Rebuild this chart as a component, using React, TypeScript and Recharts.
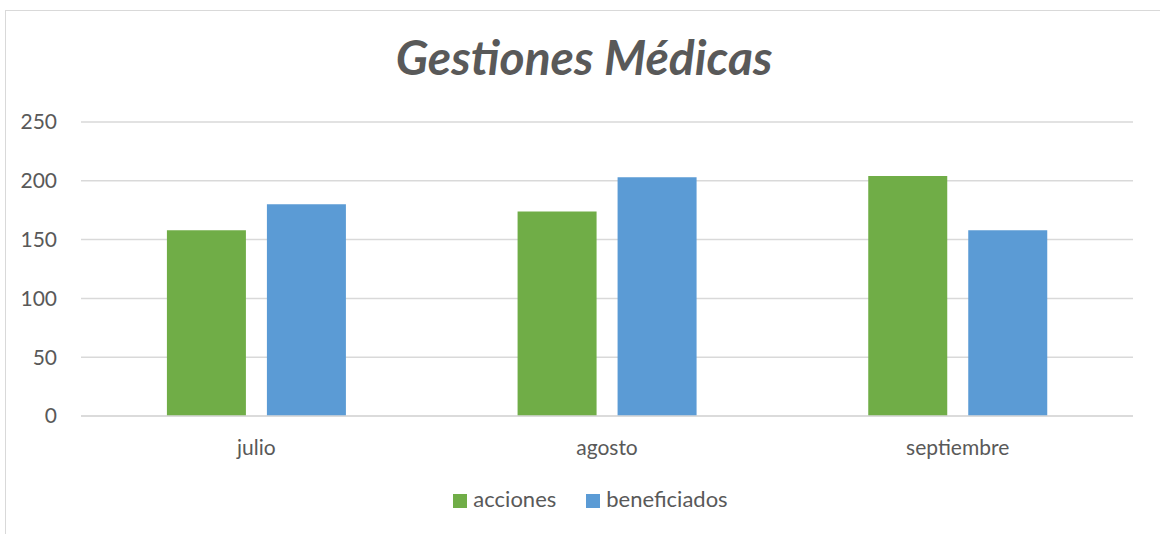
import { BarChart, Bar, XAxis, YAxis, CartesianGrid, Legend } from "recharts";

const months = ["julio", "agosto", "septiembre"];
const acciones = [158, 174, 204];
const beneficiados = [180, 203, 158];
const yTicks = [0, 50, 100, 150, 200, 250];

const data = months.map((m, i) => ({
  mes: m,
  acciones: acciones[i],
  beneficiados: beneficiados[i],
}));

const FONT = "Lato, 'Open Sans', sans-serif";
const TEXT = "#595959";

export default function App() {
  return (
    <div
      style={{
        position: "absolute",
        left: 0,
        top: 0,
        width: 1160,
        height: 534,
        background: "#fff",
        overflow: "hidden",
        fontFamily: FONT,
      }}
    >
      {/* chart frame, only top and left edges show in the crop */}
      <div
        style={{
          position: "absolute",
          left: 5,
          top: 10,
          width: 1200,
          height: 600,
          border: "1.5px solid #d9d9d9",
          boxSizing: "border-box",
        }}
      />
      <div
        style={{
          position: "absolute",
          top: 28,
          left: 0,
          width: 1168,
          textAlign: "center",
          fontSize: 48,
          fontStyle: "italic",
          fontWeight: 700,
          color: TEXT,
        }}
      >
        Gestiones Médicas
      </div>
      <BarChart
        width={1160}
        height={534}
        data={data}
        margin={{ top: 122, right: 27, left: 0, bottom: 22 }}
        barCategoryGap="24.5%"
        barGap={21}
        style={{ position: "absolute", left: 0, top: 0 }}
      >
        <CartesianGrid vertical={false} stroke="#d9d9d9" strokeWidth={1.5} />
        <XAxis
          dataKey="mes"
          axisLine={{ stroke: "#d9d9d9", strokeWidth: 1.5 }}
          tickLine={false}
          tickMargin={18}
          height={69}
          tick={{ fill: TEXT, fontSize: 21, fontFamily: FONT }}
        />
        <YAxis
          width={81}
          domain={[0, 250]}
          ticks={yTicks}
          axisLine={false}
          tickLine={false}
          tickMargin={18}
          tick={{ fill: TEXT, fontSize: 21, fontFamily: FONT }}
        />
        <Legend
          verticalAlign="bottom"
          iconType="square"
          iconSize={14}
          wrapperStyle={{ fontSize: 22, fontFamily: FONT, left: 39 }}
          formatter={(value) => (
            <span style={{ color: TEXT, marginLeft: 2, marginRight: 20 }}>{value}</span>
          )}
        />
        <Bar dataKey="acciones" fill="#70AD47" isAnimationActive={false} />
        <Bar dataKey="beneficiados" fill="#5B9BD5" isAnimationActive={false} />
      </BarChart>
    </div>
  );
}
